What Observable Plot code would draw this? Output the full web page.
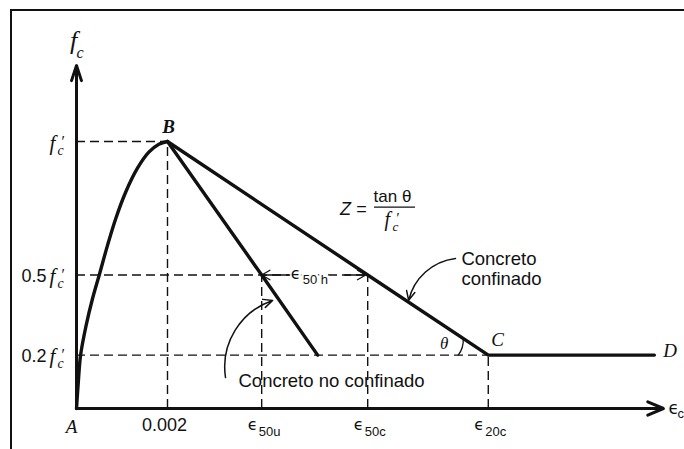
<!DOCTYPE html>
<html>
<head>
<meta charset="utf-8">
<script src="https://cdn.jsdelivr.net/npm/d3@7"></script>
<script src="https://cdn.jsdelivr.net/npm/@observablehq/plot@0.6"></script>
<style>
  body { margin: 0; background: #fff; }
  #chart { position: relative; width: 684px; height: 449px; overflow: hidden; }
  #chart svg { position: absolute; left: 0; top: 0; }
  #border { position: absolute; left: 10px; top: 9px; width: 720px; height: 500px;
            border-top: 2.5px solid #111; border-left: 2px solid #111; box-sizing: border-box; }
</style>
</head>
<body>
<div id="chart"><div id="border"></div></div>
<script>
// Ascending branch A–B: strain ε and stress as a fraction of f'c
const riseStrain = [0, 0.00004, 0.00009, 0.00021, 0.00035, 0.0005, 0.00068, 0.00086, 0.00108, 0.00134, 0.00159, 0.00181, 0.002];
const riseStress = [0, 0.1, 0.2, 0.31, 0.41, 0.5, 0.61, 0.71, 0.81, 0.9, 0.96, 0.99, 1];

// Descending branch of unconfined concrete: B → ε50u → 0.2 f'c
const unconfinedStrain = [0.002, 0.00407, 0.0053];
const unconfinedStress = [1, 0.5, 0.2];

// Descending branch of confined concrete: B → ε50c → C, then the plateau C–D
const confinedStrain = [0.002, 0.0064, 0.00905, 0.0127];
const confinedStress = [1, 0.5, 0.2, 0.2];

// Reference strains on the horizontal axis and how high their guides rise
const strainTicks = [0.002, 0.00407, 0.0064, 0.00905];
const strainTickTops = [1, 0.5, 0.5, 0.2];
const strainTickSubs = ["", "50u", "50c", "20c"];

// Reference stresses on the vertical axis and where their guides end
const stressLevels = [1, 0.5, 0.2];
const stressLevelEnds = [0.002, 0.0064, 0.00905];
const stressLevelFactors = ["", "0.5", "0.2"];

// Axis extents
const strainMax = 0.0129;
const stressMax = 1.285;

const pts = (xs, ys) => xs.map((e, i) => ({e, f: ys[i]}));
const serifItalic = {fontFamily: "Liberation Serif, 'Times New Roman', serif", fontStyle: "italic"};
const sans = {fontFamily: "Liberation Sans, Arial, Helvetica, sans-serif"};
const greek = {fontFamily: "DejaVu Sans, Liberation Sans, sans-serif"};
const ink = "#111";

// One piece of text at a data position, offset in pixels, baseline at the anchor
const label = (x, y, text, o = {}) =>
  Plot.text([{x, y, text}], {x: "x", y: "y", text: "text", lineAnchor: "bottom", fill: ink, ...o});

// f'c written as an italic f with a prime and a subscript c
const fPrime = (x, y, dx, dy, size = 21) => [
  label(x, y, "f", {...serifItalic, fontSize: size, dx, dy, textAnchor: "start"}),
  label(x, y, "′", {...serifItalic, fontSize: size * 0.75, dx: dx + 11, dy: dy - 3, textAnchor: "start"}),
  label(x, y, "c", {...serifItalic, fontSize: size * 0.66, dx: dx + 8, dy: dy + 5, textAnchor: "start"})
];

// Annotation anchors in data coordinates
const peak = {x: confinedStrain[0], y: confinedStress[0]};
const pointC = {x: confinedStrain[2], y: confinedStress[2]};
const pointD = {x: confinedStrain[3], y: confinedStress[3]};
const zNote = {x: 0.00655, y: 0.754};
const gapMid = {x: (strainTicks[1] + strainTicks[2]) / 2, y: 0.5};
const confinedNote = {x: 0.00846, y: 0.461};
const unconfinedNote = {x: 0.00356, y: 0.079};
const halo = {stroke: "white", strokeWidth: 5};

const marks = [
  // dashed guides
  Plot.ruleX(pts(strainTicks, strainTickTops), {x: "e", y1: 0, y2: "f", stroke: ink, strokeWidth: 1.4, strokeDasharray: "9,5"}),
  Plot.ruleY(pts(stressLevelEnds, stressLevels), {y: "f", x1: 0, x2: "e", stroke: ink, strokeWidth: 1.4, strokeDasharray: "9,5"}),

  // axes with arrowheads
  Plot.arrow([{x1: 0, y1: 0, x2: 0, y2: stressMax}], {x1: "x1", y1: "y1", x2: "x2", y2: "y2", stroke: ink, strokeWidth: 3, headLength: 8, headAngle: 36}),
  Plot.arrow([{x1: 0, y1: 0, x2: strainMax, y2: 0}], {x1: "x1", y1: "y1", x2: "x2", y2: "y2", stroke: ink, strokeWidth: 3, headLength: 8.5, headAngle: 46}),

  // stress–strain curves
  Plot.line(pts(riseStrain, riseStress), {x: "e", y: "f", curve: "catmull-rom", stroke: ink, strokeWidth: 3.4, strokeLinejoin: "round"}),
  Plot.line(pts(unconfinedStrain, unconfinedStress), {x: "e", y: "f", stroke: ink, strokeWidth: 3.4, strokeLinejoin: "round"}),
  Plot.line(pts(confinedStrain, confinedStress), {x: "e", y: "f", stroke: ink, strokeWidth: 3.4, strokeLinejoin: "round"}),

  // horizontal axis labels
  label(0, 0, "A", {...serifItalic, fontSize: 19, dx: -5, dy: 24}),
  label(strainTicks[0], 0, "0.002", {...sans, fontSize: 18, dx: -3, dy: 22}),
  ...strainTicks.slice(1).flatMap((e, i) => [
    label(e, 0, "ϵ", {...greek, fontSize: 16, dx: -9, dy: 21}),
    label(e, 0, strainTickSubs[i + 1], {...sans, fontSize: 13, dx: -3, dy: 27, textAnchor: "start"})
  ]),
  label(strainMax, 0, "ϵ", {...greek, fontSize: 17, dx: 5, dy: 5, textAnchor: "start"}),
  label(strainMax, 0, "c", {...sans, fontSize: 13, dx: 14, dy: 9, textAnchor: "start"}),

  // vertical axis labels
  label(0, stressMax, "f", {...serifItalic, fontSize: 26, dx: -3, dy: -16}),
  label(0, stressMax, "c", {...serifItalic, fontSize: 16, dx: 0, dy: -7, textAnchor: "start"}),
  ...stressLevels.flatMap((s, i) => [
    label(0, s, stressLevelFactors[i], {...sans, fontSize: 18, dx: -30, dy: 7, textAnchor: "end"}),
    ...fPrime(0, s, -27, 8)
  ]),

  // point labels
  label(peak.x, peak.y, "B", {...serifItalic, fontWeight: "bold", fontSize: 19, dx: 1, dy: -9}),
  label(pointC.x, pointC.y, "C", {...serifItalic, fontSize: 19, dx: 3, dy: -9, textAnchor: "start"}),
  label(pointD.x, pointD.y, "D", {...serifItalic, fontSize: 19, dx: 9, dy: 2, textAnchor: "start"}),
  label(pointC.x, pointC.y, "θ", {...serifItalic, fontSize: 17, dx: -44, dy: -6}),
  Plot.arrow([{x1: 0.00839, y1: 0.2, x2: 0.0085, y2: 0.2625}], {x1: "x1", y1: "y1", x2: "x2", y2: "y2", stroke: ink, strokeWidth: 1.3, bend: -20, headLength: 0}),

  // Z = tan θ / f'c
  label(zNote.x, zNote.y, "Z =", {...sans, fontStyle: "italic", fontSize: 18, dx: -8, dy: 8, textAnchor: "end"}),
  label(zNote.x, zNote.y, "tan θ", {...sans, fontSize: 17, dx: -1, dy: -5, textAnchor: "start"}),
  Plot.ruleY([zNote.y], {x1: zNote.x, x2: zNote.x + 0.0009, stroke: ink, strokeWidth: 1.2}),
  ...fPrime(zNote.x, zNote.y, 10, 19, 20),

  // ε50h between the two branches at 0.5 f'c
  label(gapMid.x, gapMid.y, "ϵ", {...greek, ...halo, fontSize: 16, dx: -19, dy: 3.5}),
  label(gapMid.x, gapMid.y, "50 h", {...sans, ...halo, fontSize: 13, dx: -12, dy: 8.5, textAnchor: "start"}),
  Plot.arrow([{x1: gapMid.x, y1: 0.5, x2: strainTicks[1], y2: 0.5}], {x1: "x1", y1: "y1", x2: "x2", y2: "y2", stroke: ink, strokeWidth: 1.3, headLength: 11, headAngle: 60, insetStart: 25}),
  Plot.arrow([{x1: gapMid.x, y1: 0.5, x2: strainTicks[2], y2: 0.5}], {x1: "x1", y1: "y1", x2: "x2", y2: "y2", stroke: ink, strokeWidth: 1.3, headLength: 11, headAngle: 60, insetStart: 30, insetEnd: 2}),

  // branch notes with curved pointers
  label(confinedNote.x, confinedNote.y, "Concreto\nconfinado", {...sans, fontSize: 18.5, lineHeight: 1.1, textAnchor: "start"}),
  Plot.arrow([{x1: 0.00833, y1: 0.562, x2: 0.0073, y2: 0.405}], {x1: "x1", y1: "y1", x2: "x2", y2: "y2", stroke: ink, strokeWidth: 1.5, bend: -35, headLength: 10, headAngle: 50}),
  label(unconfinedNote.x, unconfinedNote.y, "Concreto no confinado", {...sans, fontSize: 18.5, textAnchor: "start"}),
  Plot.arrow([{x1: 0.003275, y1: 0.116, x2: 0.00431, y2: 0.4045}], {x1: "x1", y1: "y1", x2: "x2", y2: "y2", stroke: ink, strokeWidth: 1.5, bend: 40, headLength: 10, headAngle: 50})
];

const chart = Plot.plot({
  width: 684,
  height: 449,
  x: {domain: [0, 0.013], range: [76, 667.5], axis: null},
  y: {domain: [0, 1.3], range: [408, 60.9], axis: null},
  style: {background: "transparent", overflow: "visible"},
  marks
});
document.getElementById("chart").appendChild(chart);
</script>
</body>
</html>
